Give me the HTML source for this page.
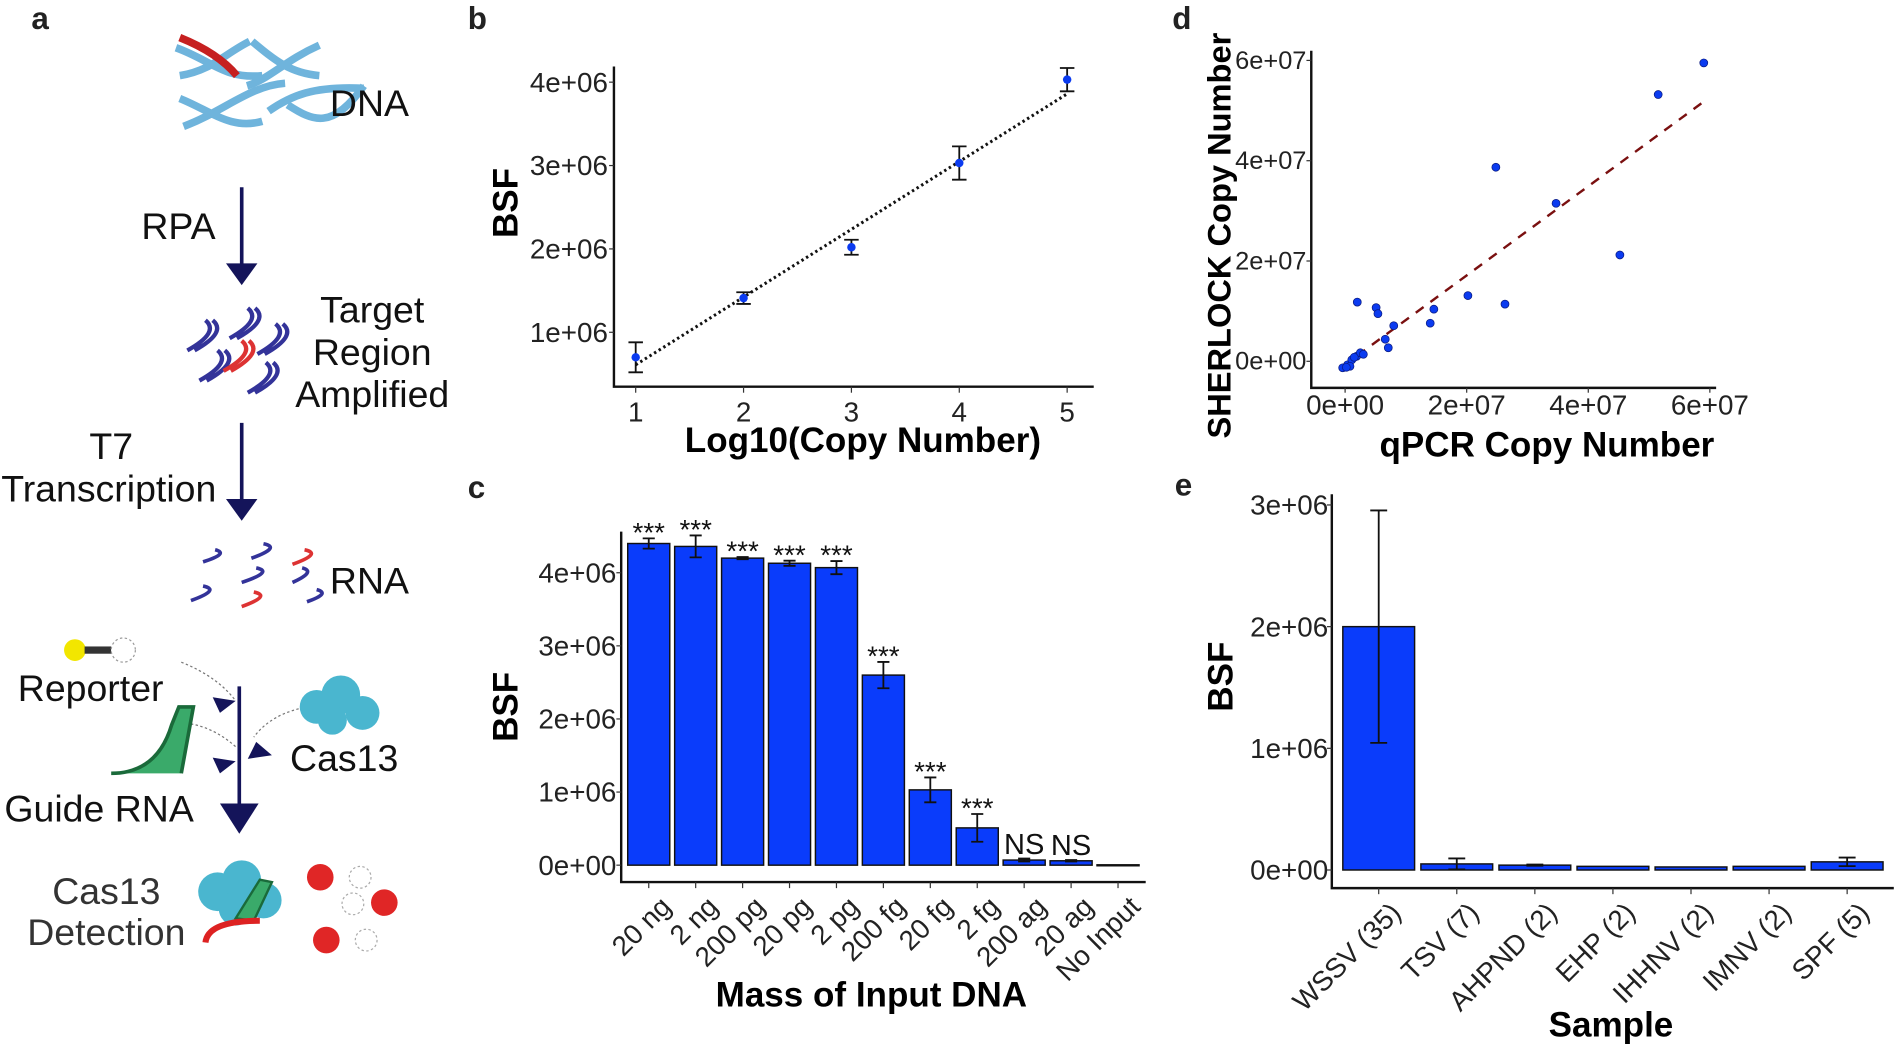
<!DOCTYPE html>
<html><head><meta charset="utf-8"><style>
html,body{margin:0;padding:0;background:#fff;}
svg{display:block;font-family:"Liberation Sans",sans-serif;}
.tk{font-size:23px;fill:#222;}
.tkd{font-size:21px;fill:#222;}
.tt{font-size:29px;font-weight:bold;fill:#000;}
.lt{font-size:26px;font-weight:bold;fill:#222;}
.dg{font-size:31px;fill:#111;}
</style></head><body>
<svg id="fig" width="1895" height="1044" viewBox="0 0 1568 864" preserveAspectRatio="none">
<text class="lt" x="26" y="24">a</text>
<text class="lt" x="387" y="24">b</text>
<text class="lt" x="387" y="412">c</text>
<text class="lt" x="970" y="24">d</text>
<text class="lt" x="972" y="410">e</text>

<g>
 <g fill="none" stroke="#6fb4dc" stroke-width="6" transform="translate(-35 8) scale(1.05)">
  <path d="M172 30 C200 40,210 55,240 52 M175 52 C200 48,210 35,230 25 M232 25 C250 40,262 50,285 52 M228 60 C245 55,258 40,285 28"/>
  <path d="M175 70 C200 80,215 95,240 88 M178 92 C210 80,230 60,258 58 M245 80 C262 68,280 60,320 62 M260 75 C280 88,295 95,320 60"/>
  <path d="M175 22 C195 30,210 40,220 52" stroke="#c62020" stroke-width="6"/>
 </g>
 <text class="dg" x="273" y="96">DNA</text>
 <line x1="200" y1="155" x2="200" y2="225" stroke="#14145a" stroke-width="3"/>
 <polygon points="187,218 213,218 200,236" fill="#14145a"/>
 <text class="dg" x="117" y="198">RPA</text>
 <g fill="none" stroke-width="3.5">
  <path d="M170 265 q12 10 -15 25 M176 265 q12 10 -15 25 M205 255 q12 10 -15 25 M211 255 q12 10 -15 25 M228 268 q12 10 -15 25 M234 268 q12 10 -15 25 M180 290 q12 10 -15 25 M186 290 q12 10 -15 25 M220 300 q12 10 -15 25 M226 300 q12 10 -15 25" stroke="#333399"/>
  <path d="M200 282 q12 10 -15 25 M206 282 q12 10 -15 25" stroke="#dd3333"/>
 </g>
 <text class="dg" x="308" y="267" text-anchor="middle">Target</text>
 <text class="dg" x="308" y="302" text-anchor="middle">Region</text>
 <text class="dg" x="308" y="337" text-anchor="middle">Amplified</text>
 <line x1="200" y1="350" x2="200" y2="420" stroke="#14145a" stroke-width="3"/>
 <polygon points="187,413 213,413 200,431" fill="#14145a"/>
 <text class="dg" x="92" y="380" text-anchor="middle">T7</text>
 <text class="dg" x="90" y="415" text-anchor="middle">Transcription</text>
 <g fill="none" stroke-width="3">
  <path d="M218 450 q15 3 -10 12 M178 455 q12 3 -10 10 M212 470 q15 3 -12 12 M168 485 q15 3 -10 12 M250 470 q12 3 -8 12 M262 488 q12 3 -8 10" stroke="#333399"/>
  <path d="M252 455 q15 3 -10 12 M210 490 q15 3 -10 12" stroke="#dd3333"/>
 </g>
 <text class="dg" x="273" y="491">RNA</text>
 <g>
  <circle cx="62" cy="538" r="9" fill="#f2e600"/>
  <rect x="70" y="535" width="22" height="6" fill="#333"/>
  <circle cx="102" cy="538" r="10" fill="#fff" stroke="#999" stroke-dasharray="2 2"/>
 </g>
 <text class="dg" x="75" y="580" text-anchor="middle">Reporter</text>
 <path d="M150 548 Q180 560 195 580" fill="none" stroke="#777" stroke-dasharray="2 2"/>
 <path d="M150 598 Q175 600 195 618" fill="none" stroke="#777" stroke-dasharray="2 2"/>
 <path d="M255 585 Q225 590 210 610" fill="none" stroke="#777" stroke-dasharray="2 2"/>
 <polygon points="176,577 195,580 182,590" fill="#14145a"/>
 <polygon points="176,627 195,630 182,640" fill="#14145a"/>
 <polygon points="212,614 225,625 205,628" fill="#14145a"/>
 <line x1="198" y1="568" x2="198" y2="675" stroke="#14145a" stroke-width="3"/>
 <polygon points="182,665 214,665 198,690" fill="#14145a"/>
 <path d="M92 640 Q130 640 142 600 L148 585 L160 585 L150 640" fill="#3aaa6a" stroke="#1a6a3a" stroke-width="3"/>
 <g fill="#4ab6cf">
  <circle cx="262" cy="585" r="14"/><circle cx="282" cy="575" r="16"/><circle cx="300" cy="590" r="14"/><circle cx="275" cy="596" r="12"/>
 </g>
 <text class="dg" x="240" y="638">Cas13</text>
 <text class="dg" x="82" y="680" text-anchor="middle">Guide RNA</text>
 <g>
  <circle cx="180" cy="738" r="16" fill="#4ab6cf"/><circle cx="200" cy="728" r="16" fill="#4ab6cf"/><circle cx="218" cy="745" r="15" fill="#4ab6cf"/><circle cx="195" cy="752" r="14" fill="#4ab6cf"/>
  <path d="M195 760 L215 728 L225 730 L210 762 Z" fill="#3aaa6a" stroke="#1a6a3a" stroke-width="2"/>
  <path d="M170 780 Q172 762 215 762" fill="none" stroke="#dd2222" stroke-width="5"/>
 </g>
 <g fill="#e02626">
  <circle cx="265" cy="726" r="11"/><circle cx="318" cy="747" r="11"/><circle cx="270" cy="778" r="11"/>
  <circle cx="298" cy="726" r="9" fill="#fff" stroke="#aaa" stroke-dasharray="2 2"/>
  <circle cx="292" cy="748" r="9" fill="#fff" stroke="#aaa" stroke-dasharray="2 2"/>
  <circle cx="303" cy="778" r="9" fill="#fff" stroke="#aaa" stroke-dasharray="2 2"/>
 </g>
 <text class="dg" x="88" y="748" text-anchor="middle" style="fill:#333">Cas13</text>
 <text class="dg" x="88" y="782" text-anchor="middle" style="fill:#333">Detection</text>
</g>

<g id="pb"></g>
<g id="pc"></g>
<g id="pd"></g>
<g id="pe"></g>
</svg>
<script>
// ---- Panel b data ----
const bX = [1, 2, 3, 4, 5];
const bY = [0.70e6, 1.41e6, 2.02e6, 3.03e6, 4.03e6];
const bErr = [0.18e6, 0.07e6, 0.09e6, 0.2e6, 0.14e6];
const bFitStart = 0.61e6;
const bFitEnd = 3.86e6;
const bYTicks = [1e6, 2e6, 3e6, 4e6];
const bYTickLabels = ["1e+06", "2e+06", "3e+06", "4e+06"];
// ---- Panel c data ----
const cCats = ["20 ng", "2 ng", "200 pg", "20 pg", "2 pg", "200 fg", "20 fg", "2 fg", "200 ag", "20 ag", "No Input"];
const cVals = [4.40e6, 4.36e6, 4.20e6, 4.13e6, 4.07e6, 2.60e6, 1.03e6, 0.51e6, 0.07e6, 0.06e6, 0.005e6];
const cErr = [0.07e6, 0.15e6, 0.015e6, 0.035e6, 0.09e6, 0.18e6, 0.17e6, 0.19e6, 0.02e6, 0.01e6, 0];
const cSig = ["***", "***", "***", "***", "***", "***", "***", "***", "NS", "NS", ""];
const cYTicks = [0, 1e6, 2e6, 3e6, 4e6];
const cYTickLabels = ["0e+00", "1e+06", "2e+06", "3e+06", "4e+06"];
// ---- Panel d data ----
const dQpcr = [5.9e7, 5.15e7, 2.48e7, 3.47e7, 4.52e7, 2.02e7, 2.63e7, 1.46e7, 1.40e7, 0.20e7, 0.51e7, 0.54e7, 0.80e7, 0.66e7, 0.71e7, -0.04e7, 0.04e7, 0.11e7, 0.19e7, 0.25e7, 0.08e7, 0.15e7, 0.02e7, 0.30e7];
const dSherlock = [5.95e7, 5.32e7, 3.87e7, 3.15e7, 2.12e7, 1.31e7, 1.14e7, 1.04e7, 0.76e7, 1.18e7, 1.07e7, 0.95e7, 0.71e7, 0.44e7, 0.27e7, -0.13e7, -0.07e7, 0.03e7, 0.10e7, 0.17e7, -0.10e7, 0.08e7, -0.12e7, 0.14e7];
const dFitX = [-0.04e7, 5.89e7];
const dFitY = [-0.10e7, 5.17e7];
const dTicks = [0, 2e7, 4e7, 6e7];
const dTickLabels = ["0e+00", "2e+07", "4e+07", "6e+07"];
// ---- Panel e data ----
const eCats = ["WSSV (35)", "TSV (7)", "AHPND (2)", "EHP (2)", "IHHNV (2)", "IMNV (2)", "SPF (5)"];
const eVals = [2.0e6, 0.05e6, 0.04e6, 0.03e6, 0.025e6, 0.03e6, 0.067e6];
const eErr = [0.955e6, 0.045e6, 0.005e6, 0, 0, 0, 0.035e6];
const eYTicks = [0, 1e6, 2e6, 3e6];
const eYTickLabels = ["0e+00", "1e+06", "2e+06", "3e+06"];

const NS = "http://www.w3.org/2000/svg";
function mk(parent, tag, attrs, text) {
  const el = document.createElementNS(NS, tag);
  for (const k in attrs) el.setAttribute(k, attrs[k]);
  if (text !== undefined) el.textContent = text;
  parent.appendChild(el);
  return el;
}
function errbar(g, x, y1, y2, hw) {
  const e = mk(g, "path", {d: `M${x-hw} ${y1}H${x+hw}M${x} ${y1}V${y2}M${x-hw} ${y2}H${x+hw}`, stroke: "#111", "stroke-width": 1.5, fill: "none"});
  
  
}

// ===== Panel b =====
(function(){
  const g = document.getElementById("pb");
  const xs = v => 526 + (v - 1) * 89.25;
  const ys = v => 344 - v / 1e6 * 69;
  const ax = mk(g, "path", {d: "M508 55V320H905", stroke: "#111", "stroke-width": 2, fill: "none"});
  
  
  bYTicks.forEach((t, i) => {
    mk(g, "line", {x1: 504, x2: 508, y1: ys(t), y2: ys(t), stroke: "#333"});
    const l = mk(g, "text", {class: "tk", x: 503, y: ys(t) + 8, "text-anchor": "end"}, bYTickLabels[i]);
    
    
  });
  bX.forEach(v => {
    mk(g, "line", {x1: xs(v), x2: xs(v), y1: 320, y2: 325, stroke: "#333"});
    const l = mk(g, "text", {class: "tk", x: xs(v), y: 349, "text-anchor": "middle"}, String(v));
    
    
  });
  const fit = mk(g, "line", {x1: xs(bX[0]), y1: ys(bFitStart), x2: xs(bX[4]), y2: ys(bFitEnd), stroke: "#111", "stroke-width": 2.5, "stroke-dasharray": "2 2.5"});
  
  
  bX.forEach((v, i) => {
    errbar(g, xs(v), ys(bY[i] + bErr[i]), ys(bY[i] - bErr[i]), 6);
    const p = mk(g, "circle", {cx: xs(v), cy: ys(bY[i]), r: 3.5, fill: "#0b3bf0"});
    
    
  });
  const yt = mk(g, "text", {class: "tt", transform: "translate(428 168) rotate(-90)", "text-anchor": "middle"}, "BSF");
  
  
  const xt = mk(g, "text", {class: "tt", x: 714, y: 374, "text-anchor": "middle"}, "Log10(Copy Number)");
  
  
})();

// ===== Panel c =====
(function(){
  const g = document.getElementById("pc");
  const xs = i => 536.8 + i * 38.83;
  const ys = v => 716 - v / 1e6 * 60.5;
  const bw = 34.8;
  const ax = mk(g, "path", {d: "M514 440V730H948", stroke: "#111", "stroke-width": 2, fill: "none"});
  
  
  cYTicks.forEach((t, i) => {
    mk(g, "line", {x1: 510, x2: 514, y1: ys(t), y2: ys(t), stroke: "#333"});
    const l = mk(g, "text", {class: "tk", x: 510, y: ys(t) + 8, "text-anchor": "end"}, cYTickLabels[i]);
    
    
  });
  cCats.forEach((c, i) => {
    const x = xs(i);
    const top = ys(cVals[i]);
    const b = mk(g, "rect", {x: x - bw/2, y: top, width: bw, height: Math.max(ys(0) - top, 0.8), fill: "#0a3cfb", stroke: "#111", "stroke-width": 1.2});
    
    
    if (cErr[i] > 0) errbar(g, x, ys(cVals[i] + cErr[i]), ys(cVals[i] - cErr[i]), 5);
    if (cSig[i]) {
      const s = mk(g, "text", {x: x, y: ys(cVals[i] + cErr[i]) - (cSig[i] === "NS" ? 4 : -3), "text-anchor": "middle", style: cSig[i] === "NS" ? "font-size:24px;fill:#111" : "font-size:23px;fill:#111"}, cSig[i]);
      
      
    }
    mk(g, "line", {x1: x, x2: x, y1: 730, y2: 735, stroke: "#333"});
    const l = mk(g, "text", {class: "tk", transform: `translate(${x + 8} ${740}) rotate(-45)`, "text-anchor": "end", "dominant-baseline": "hanging"}, c);
    
    
  });
  const yt = mk(g, "text", {class: "tt", transform: "translate(428 585) rotate(-90)", "text-anchor": "middle"}, "BSF");
  
  
  const xt = mk(g, "text", {class: "tt", x: 721, y: 833, "text-anchor": "middle"}, "Mass of Input DNA");
  
  
})();

// ===== Panel d =====
(function(){
  const g = document.getElementById("pd");
  const xs = v => 1113 + v / 1e7 * 50.3;
  const ys = v => 299 - v / 1e7 * 41.5;
  const ax = mk(g, "path", {d: "M1085 42V321H1420", stroke: "#111", "stroke-width": 2, fill: "none"});
  
  
  dTicks.forEach((t, i) => {
    mk(g, "line", {x1: 1081, x2: 1085, y1: ys(t), y2: ys(t), stroke: "#333"});
    const l = mk(g, "text", {class: "tkd", x: 1081, y: ys(t) + 7, "text-anchor": "end"}, dTickLabels[i]);
    
    
    mk(g, "line", {x1: xs(t), x2: xs(t), y1: 321, y2: 325, stroke: "#333"});
    const lx = mk(g, "text", {class: "tk", x: xs(t), y: 343, "text-anchor": "middle"}, dTickLabels[i]);
    
    
  });
  const fit = mk(g, "line", {x1: xs(dFitX[0]), y1: ys(dFitY[0]), x2: xs(dFitX[1]), y2: ys(dFitY[1]), stroke: "#7a1010", "stroke-width": 2, "stroke-dasharray": "8 7"});
  
  
  dQpcr.forEach((v, i) => {
    const p = mk(g, "circle", {cx: xs(v), cy: ys(dSherlock[i]), r: 3.3, fill: "#0b3bf0", stroke: "#0a1a80", "stroke-width": 0.6});
    
    
  });
  const yt = mk(g, "text", {class: "tt", transform: "translate(1018 195) rotate(-90)", "text-anchor": "middle", style: "font-size:27px"}, "SHERLOCK Copy Number");
  
  
  const xt = mk(g, "text", {class: "tt", x: 1280, y: 378, "text-anchor": "middle"}, "qPCR Copy Number");
  
  
})();

// ===== Panel e =====
(function(){
  const g = document.getElementById("pe");
  const xs = i => 1140.8 + i * 64.6;
  const ys = v => 720 - v / 1e6 * 100.7;
  const bw = 59.4;
  const ax = mk(g, "path", {d: "M1102 409V735H1567", stroke: "#111", "stroke-width": 2, fill: "none"});
  
  
  eYTicks.forEach((t, i) => {
    mk(g, "line", {x1: 1098, x2: 1102, y1: ys(t), y2: ys(t), stroke: "#333"});
    const l = mk(g, "text", {class: "tk", x: 1099, y: ys(t) + 8, "text-anchor": "end"}, eYTickLabels[i]);
    
    
  });
  eCats.forEach((c, i) => {
    const x = xs(i);
    const top = ys(eVals[i]);
    const b = mk(g, "rect", {x: x - bw/2, y: top, width: bw, height: ys(0) - top, fill: "#0a3cfb", stroke: "#111", "stroke-width": 1.2});
    
    
    if (eErr[i] > 0) errbar(g, x, ys(eVals[i] + eErr[i]), ys(eVals[i] - eErr[i]), 7);
    mk(g, "line", {x1: x, x2: x, y1: 735, y2: 740, stroke: "#333"});
    const l = mk(g, "text", {class: "tk", transform: `translate(${x + 8} ${745}) rotate(-45)`, "text-anchor": "end", "dominant-baseline": "hanging"}, c);
    
    
  });
  const yt = mk(g, "text", {class: "tt", transform: "translate(1020 560) rotate(-90)", "text-anchor": "middle"}, "BSF");
  
  
  const xt = mk(g, "text", {class: "tt", x: 1333, y: 858, "text-anchor": "middle"}, "Sample");
  
  
})();
</script>
</body></html>
